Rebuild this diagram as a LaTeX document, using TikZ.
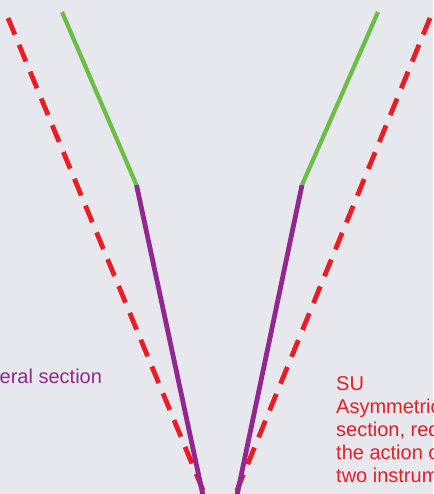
\documentclass[tikz,border=0pt]{standalone}
\usepackage{fontspec}
\setmainfont{Liberation Sans}
\usetikzlibrary{
    positioning  % For relative placement
}
\definecolor{bgpaper}{RGB}{231,232,238}
\definecolor{guidegreen}{RGB}{106,189,69}
\definecolor{shaftpurple}{RGB}{146,39,143}
\definecolor{sured}{RGB}{237,28,36}

\begin{document}
\begin{tikzpicture}[
    x=1pt, y=-1pt, % one unit = one pixel of the reference
    % Define styles
    upper/.style={draw=guidegreen, line width=4.2pt}, % upper section
    lower/.style={draw=shaftpurple, line width=4.8pt}, % lower section
    reach/.style={draw=sured, line width=4.8pt, dash pattern=on 18pt off 11pt}, % SU range
    label/.style={font=\fontsize{20}{23}\selectfont, inner sep=0pt, align=left} % captions
]

% ----- BACKGROUND AND FRAME -----
\fill[bgpaper] (0,0) rectangle (433,494);
\useasboundingbox (0,0) rectangle (433,494);
\clip (0,0) rectangle (433,494);

% ----- KEY POINTS -----
\coordinate (l_top)   at (62,12);
\coordinate (l_bend)  at (136.5,185);
\coordinate (l_tip)   at (204,500);
\coordinate (r_top)   at (378,12);
\coordinate (r_bend)  at (302,185);
\coordinate (r_tip)   at (236,500);
\coordinate (su_ltop) at (8,18);
\coordinate (su_lbot) at (207,500);
\coordinate (su_rtop) at (430,18);
\coordinate (su_rbot) at (233,500);

% ----- SU RANGE (dashed) -----
\draw [reach] (su_ltop) -- (su_lbot);
\draw [reach] (su_rtop) -- (su_rbot);

% ----- INSTRUMENTS -----
\draw [upper] (l_top) -- (l_bend);
\draw [lower] (l_bend) -- (l_tip);
\draw [upper] (r_top) -- (r_bend);
\draw [lower] (r_bend) -- (r_tip);

% ----- CAPTIONS -----
\node (lat_text) [label, text=shaftpurple, anchor=base west] at (-0.5,383) {eral section};
\node (su_text)  [label, text=sured, anchor=base west] at (336,482)
    {SU\\Asymmetric\\section, red\\the action o\\two instrum};

\end{tikzpicture}
\end{document}
